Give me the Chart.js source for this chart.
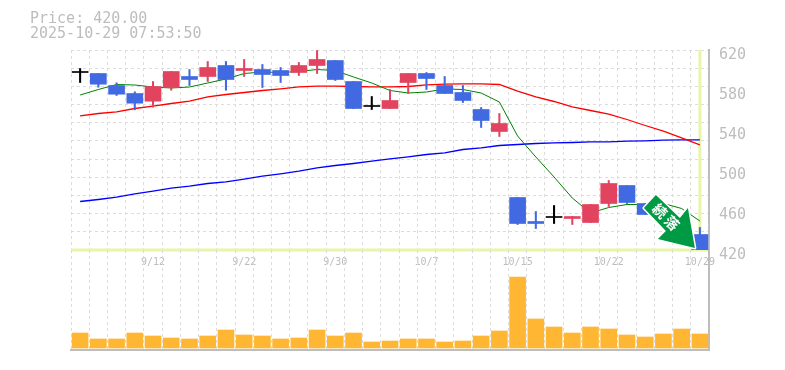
<!DOCTYPE html>
<html>
<head>
<meta charset="utf-8">
<title>Price chart</title>
<script src="https://cdn.jsdelivr.net/npm/chart.js@4"></script>
<style>
html, body { margin: 0; padding: 0; background: #fff; }
#wrap { position: relative; width: 785px; height: 370px; overflow: hidden; }
#wrap canvas { position: absolute; left: 0; }
#priceChart { top: 0; }
#volChart { top: 250px; }
#info { position: absolute; left: 30px; top: 11px; color: #bdbdbd; font: 15px/15px "DejaVu Sans Mono", monospace; white-space: pre; }
</style>
</head>
<body>
<div id="wrap">
  <canvas id="priceChart" width="785" height="280"></canvas>
  <canvas id="volChart" width="785" height="102"></canvas>
  <div id="info">Price: 420.00
2025-10-29 07:53:50</div>
</div>
<script>
const dates = ['9/8','9/9','9/10','9/11','9/12','9/16','9/17','9/18','9/19','9/22','9/24','9/25','9/26','9/29','9/30','10/1','10/2','10/3','10/6','10/7','10/8','10/9','10/10','10/14','10/15','10/16','10/17','10/20','10/21','10/22','10/23','10/24','10/27','10/28','10/29'];
const shownDates = ['9/12','9/22','9/30','10/7','10/15','10/22','10/29'];

const opens  = [597.5,596.5,584.5,576.5,568.8,582.5,593.5,593.5,604.5,599.5,600.5,599.5,597.5,604.5,609.5,588.5,563.5,561.5,587.5,596.5,584.5,577.5,560.5,538.5,472.5,448.5,452.5,451.5,447.5,466.5,484.5,466.5,462,445,435.5];
const closes = [597.5,585.8,575.8,566.8,583.5,598.5,590.5,602.5,590.5,601.5,595.5,594.5,604.5,610.5,590.5,561.5,563.5,569.5,596.5,591.5,576.5,569.5,549.5,546.5,446.5,446.5,452.5,453.5,465.5,486.5,467.5,455.5,452,438,420];
const highs  = [601.5,596.5,587.2,578.2,588.5,598.5,600.5,608.5,608.5,610.5,605.5,602.5,607.5,619.5,609.5,588.5,573.5,580.5,596.5,597.5,593.5,584.5,562.5,556.5,472.5,458.5,464.5,453.5,465.5,489.5,484.5,466.5,464,447,442.5];
const lows   = [587.5,582.8,574.5,560.2,562.8,579.8,584.5,588.5,579.8,593.5,582.5,587.5,594.5,596.5,589.5,561.5,560.5,561.5,576.5,580.5,576.5,567.5,542.5,533.5,445.5,441.5,446.5,445.5,447.5,463.5,466.5,455.5,450,436,420];

const maShort = [575,580.5,585.5,585,583,582,583,587,591,596.5,598,597.5,598.5,600.5,599.5,593,587,579.5,577,578,581,580.5,577,568,534,513,493,472,457,462.5,465.5,465.5,466.5,461.5,449];
const maMid   = [554.2,556.5,558.2,561.5,563.8,566.5,568.8,573.2,575.5,577.5,579.5,581.2,583.2,583.8,583.8,583.5,583.2,583.2,583.5,585.2,585.8,586.2,586.2,585.5,578.8,573.2,568.5,563.2,559.5,555.8,550.5,544.5,538.8,532.2,525.2];
const maLong  = [468.5,470.5,472.8,476.2,478.8,481.8,483.8,486.5,488.2,490.8,493.8,496.2,498.8,502.2,504.5,506.5,508.8,511.2,513.2,515.5,517.2,520.5,522.2,524.5,525.5,526.5,527.2,527.5,528.2,528.2,528.8,529.2,529.8,530.2,530.2];

const volumes = [15,9,9,15,12,10,9,12,18,13,12,9,10,18,12,15,6,7,9,9,6,7,12,17,71,29,21,15,21,19,13,11,14,19,14];

const GRAY = '#bdbdbd', GRID = '#dcdcdc', LIME = '#e6f5a8';
const UP = '#e2435f', DOWN = '#4169e1', FLAT = '#000000';

function candleColor(ctx) {
    const i = ctx.dataIndex;
    if (closes[i] > opens[i]) return UP;
    if (closes[i] < opens[i]) return DOWN;
    return FLAT;
}

// last price marker, sits behind the candles
const lastPriceLines = {
    id: 'lastPriceLines',
    beforeDatasetsDraw(chart) {
        const c = chart.ctx, a = chart.chartArea;
        const last = dates.length - 1;
        const px = chart.scales.x.getPixelForValue(last);
        const py = chart.scales.y.getPixelForValue(closes[last]);
        c.save();
        c.fillStyle = LIME;
        c.fillRect(a.left, py - 1.5, a.right - a.left - 1, 3);
        c.fillRect(px - 1.5, a.top, 3, py - a.top);
        c.restore();
    }
};

// green signal arrow pointing at the last candle
const signalArrow = {
    id: 'signalArrow',
    afterDatasetsDraw(chart) {
        const c = chart.ctx;
        const last = dates.length - 1;
        const tx = chart.scales.x.getPixelForValue(last) - 5;
        const ty = chart.scales.y.getPixelForValue(closes[last]) - 2;
        const shape = [[-39,-53],[-51,-40],[-29,-17],[-37,-9],[0,0],[-7,-40],[-15,-30]];
        c.save();
        c.beginPath();
        shape.forEach((p, i) => i ? c.lineTo(tx + p[0], ty + p[1]) : c.moveTo(tx + p[0], ty + p[1]));
        c.closePath();
        c.lineJoin = 'round';
        c.lineWidth = 3;
        c.strokeStyle = '#fff';
        c.stroke();
        c.fillStyle = '#009944';
        c.fill();
        c.translate(tx - 29, ty - 31);
        c.rotate(Math.PI / 4);
        c.fillStyle = '#fff';
        c.font = 'bold 14px "Noto Sans CJK JP"';
        c.textAlign = 'center';
        c.textBaseline = 'middle';
        c.fillText('続', -8.5, 0);
        c.fillText('落', 8.5, 0);
        c.restore();
    }
};

const xGrid = { color: GRID, lineWidth: 1, drawTicks: false };

new Chart(document.getElementById('priceChart'), {
    type: 'bar',
    data: {
        labels: dates,
        datasets: [
            { type: 'line', data: maLong, borderColor: '#0000ff', borderWidth: 1.3, pointRadius: 0, tension: 0, order: 5 },
            { type: 'line', data: maMid, borderColor: '#ff0000', borderWidth: 1.3, pointRadius: 0, tension: 0, order: 4 },
            { type: 'line', data: maShort, borderColor: '#008000', borderWidth: 1, pointRadius: 0, tension: 0, order: 3 },
            { data: lows.map((l, i) => [l, highs[i]]), backgroundColor: candleColor, barThickness: 1.4, grouped: false, order: 2 },
            { data: opens.map((o, i) => [o, closes[i]]), backgroundColor: candleColor, barThickness: 16, minBarLength: 1, grouped: false, order: 1 }
        ]
    },
    options: {
        responsive: false,
        animation: false,
        layout: { padding: { left: 71, top: 50, right: 0, bottom: 0 } },
        plugins: { legend: { display: false }, tooltip: { enabled: false } },
        scales: {
            x: {
                grid: xGrid,
                border: { display: false, dash: [3, 3] },
                ticks: {
                    autoSkip: false, maxRotation: 0, minRotation: 0, padding: 6, color: GRAY,
                    font: { family: '"DejaVu Sans Mono"', size: 10 },
                    callback(v) { const d = this.getLabelForValue(v); return shownDates.includes(d) ? d : ''; }
                },
                afterFit(s) { s.height = 30; }
            },
            y: {
                position: 'right', min: 420, max: 620,
                grid: { display: false, drawTicks: false },
                border: { color: GRAY, width: 2 },
                ticks: {
                    stepSize: 40, padding: 10, labelOffset: 5, color: GRAY,
                    font: { family: '"DejaVu Sans Mono"', size: 15 }
                },
                afterFit(s) { s.width = 76; }
            },
            // the horizontal grid does not line up with the price labels, so it gets its own axis
            yGrid: {
                position: 'left', min: 420, max: 620,
                grid: { color: GRID, lineWidth: 1, drawTicks: false },
                border: { display: false, dash: [3, 3] },
                ticks: { display: false, count: 12 },
                afterFit(s) { s.width = 0; }
            }
        }
    },
    plugins: [lastPriceLines, signalArrow]
});

new Chart(document.getElementById('volChart'), {
    type: 'bar',
    data: {
        labels: dates,
        datasets: [{ data: volumes, backgroundColor: '#ffb733', barThickness: 16 }]
    },
    options: {
        responsive: false,
        animation: false,
        layout: { padding: { left: 71, top: 0, right: 0, bottom: 1 } },
        plugins: { legend: { display: false }, tooltip: { enabled: false } },
        scales: {
            x: {
                grid: xGrid,
                border: { color: GRAY, width: 2, dash: [3, 3] },
                ticks: { display: false },
                afterFit(s) { s.height = 1; }
            },
            y: {
                position: 'right', min: -2, max: 98,
                grid: { display: false, drawTicks: false },
                border: { color: GRAY, width: 2 },
                ticks: { display: false },
                afterFit(s) { s.width = 76; }
            }
        }
    }
});
</script>
</body>
</html>
